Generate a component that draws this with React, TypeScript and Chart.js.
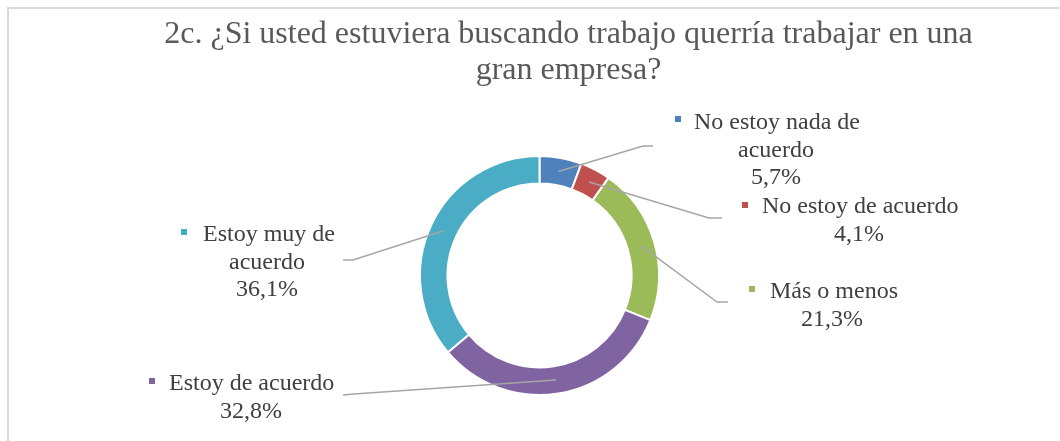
import React, { useEffect, useRef } from "react";
import { Chart, registerables } from "chart.js";

Chart.register(...registerables);

const titleLines = ["2c. ¿Si usted estuviera buscando trabajo querría trabajar en una", "gran empresa?"];
const categories = [
  "No estoy nada de acuerdo",
  "No estoy de acuerdo",
  "Más o menos",
  "Estoy de acuerdo",
  "Estoy muy de acuerdo",
];
const values = [5.7, 4.1, 21.3, 32.8, 36.1];
const valueLabels = ["5,7%", "4,1%", "21,3%", "32,8%", "36,1%"];
const labelLines = [
  ["No estoy nada de", "acuerdo"],
  ["No estoy de acuerdo"],
  ["Más o menos"],
  ["Estoy de acuerdo"],
  ["Estoy muy de", "acuerdo"],
];
const colors = ["#4F81BD", "#C0504D", "#9BBB59", "#8064A2", "#4BACC6"];

// label layout: marker center, text start x, center x for following lines, first baseline, elbow, end of leader
const labelLayout = [
  { mx: 678, my: 119, tx: 694, cx: 776, by: 129, elbow: [643, 146], end: [653, 146] },
  { mx: 745, my: 205, tx: 762, cx: 859, by: 213, elbow: [709, 218], end: [722, 218] },
  { mx: 752, my: 289, tx: 770, cx: 832, by: 298, elbow: [717, 302], end: [728, 302] },
  { mx: 152, my: 381, tx: 169, cx: 251, by: 390, elbow: [354, 394], end: [343, 395] },
  { mx: 184, my: 232, tx: 203, cx: 267, by: 241, elbow: [353, 260], end: [343, 260] },
];

const decorPlugin = {
  id: "decor",
  beforeDraw(chart: any) {
    const ctx = chart.ctx;
    ctx.save();
    ctx.strokeStyle = "#D9D9D9";
    ctx.lineWidth = 2;
    ctx.beginPath();
    ctx.moveTo(8, 441);
    ctx.lineTo(8, 8);
    ctx.lineTo(1059, 8);
    ctx.stroke();
    ctx.restore();
  },
  afterDraw(chart: any) {
    const ctx = chart.ctx;
    ctx.save();
    // title
    ctx.fillStyle = "#595959";
    ctx.font = '32px "Liberation Serif"';
    ctx.textAlign = "center";
    ctx.textBaseline = "alphabetic";
    ctx.fillText(titleLines[0], 568.5, 42.5);
    ctx.fillText(titleLines[1], 568.5, 78.5);

    const meta = chart.getDatasetMeta(0);
    meta.data.forEach((arc: any, i: number) => {
      const L = labelLayout[i];
      const p = arc.tooltipPosition();
      ctx.strokeStyle = "#A6A6A6";
      ctx.lineWidth = 1.5;
      ctx.beginPath();
      ctx.moveTo(p.x, p.y);
      ctx.lineTo(L.elbow[0], L.elbow[1]);
      ctx.lineTo(L.end[0], L.end[1]);
      ctx.stroke();

      ctx.fillStyle = colors[i];
      ctx.fillRect(L.mx - 3, L.my - 3, 6, 6);

      ctx.fillStyle = "#404040";
      ctx.font = '24px "Liberation Serif"';
      const lines = [...labelLines[i], valueLabels[i]];
      lines.forEach((t, j) => {
        const y = L.by + j * 27.5;
        if (j === 0) {
          ctx.textAlign = "left";
          ctx.fillText(t, L.tx, y);
        } else {
          ctx.textAlign = "center";
          ctx.fillText(t, L.cx, y);
        }
      });
    });
    ctx.restore();
  },
};

export default function App() {
  const ref = useRef<HTMLCanvasElement | null>(null);
  useEffect(() => {
    if (!ref.current) return;
    const chart = new Chart(ref.current, {
      type: "doughnut",
      data: {
        labels: categories,
        datasets: [
          {
            data: values,
            backgroundColor: colors,
            borderColor: "#FFFFFF",
            borderWidth: 2,
          },
        ],
      },
      options: {
        responsive: false,
        animation: false,
        radius: 119.5,
        cutout: "77%",
        layout: { padding: { left: 421, right: 402, top: 157, bottom: 47 } },
        plugins: {
          legend: { display: false },
          tooltip: { enabled: false },
          title: { display: false },
        },
      },
      plugins: [decorPlugin],
    });
    return () => chart.destroy();
  }, []);
  return (
    <div style={{ position: "fixed", left: 0, top: 0, width: 1060, height: 441, background: "#fff" }}>
      <canvas ref={ref} width={1060} height={441} style={{ display: "block" }} />
    </div>
  );
}
